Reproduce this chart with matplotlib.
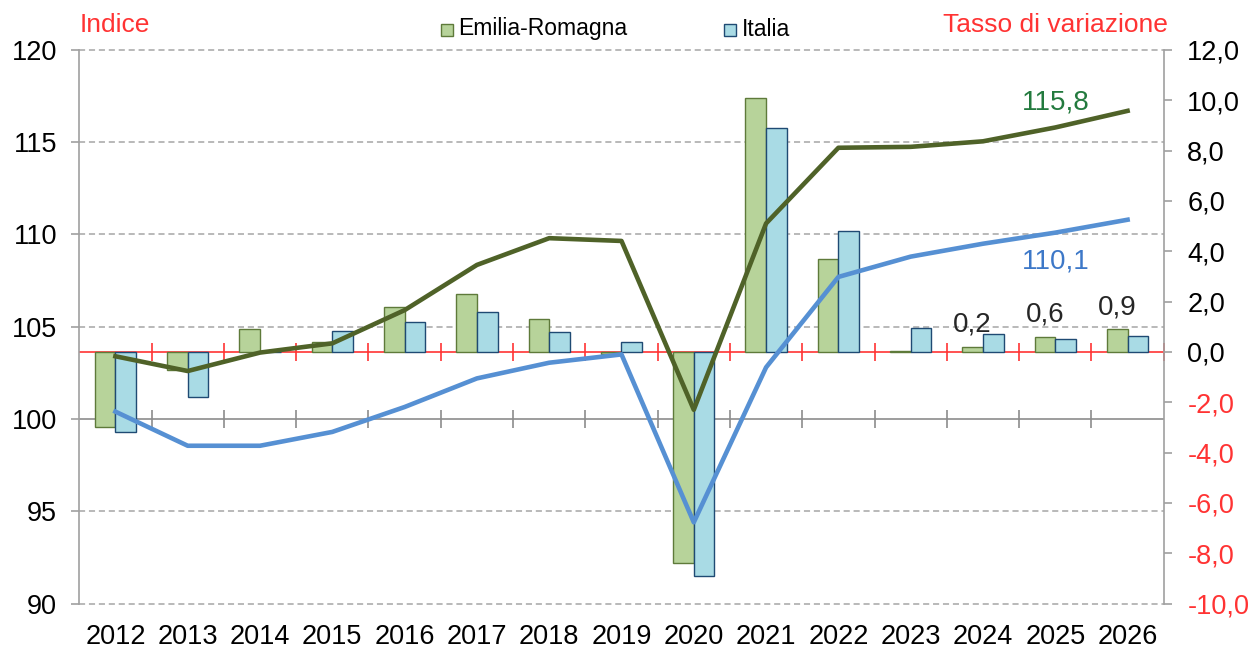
import numpy as np
import matplotlib
matplotlib.use("Agg")
import matplotlib.pyplot as plt
from matplotlib.patches import Rectangle
from matplotlib.transforms import blended_transform_factory

plt.rcParams['font.family'] = ['Liberation Sans', 'DejaVu Sans']

# Dati
anni = [2012, 2013, 2014, 2015, 2016, 2017, 2018, 2019, 2020,
        2021, 2022, 2023, 2024, 2025, 2026]
# Tasso di variazione (asse destro, barre)
var_er = [-3.0, -0.7, 0.9, 0.4, 1.8, 2.3, 1.3, -0.1, -8.4,
          10.1, 3.7, 0.05, 0.2, 0.6, 0.9]
var_it = [-3.2, -1.8, 0.0, 0.85, 1.2, 1.6, 0.8, 0.4, -8.9,
          8.9, 4.8, 0.95, 0.7, 0.5, 0.65]
# Indice (asse sinistro, linee)
idx_er = [103.4, 102.6, 103.6, 104.1, 105.9, 108.35, 109.8, 109.65, 100.5,
          110.6, 114.7, 114.75, 115.05, 115.8, 116.7]
idx_it = [100.4, 98.55, 98.55, 99.3, 100.65, 102.2, 103.05, 103.5, 94.4,
          102.8, 107.7, 108.8, 109.5, 110.1, 110.8]

rosso = '#ff3333'
grigio = '#a0a0a0'

def virgola(v):
    return f"{v:.1f}".replace('.', ',')

fig = plt.figure(figsize=(12.52, 6.55), dpi=100)
ax_r = fig.add_axes([0.0633, 0.0786, 0.8662, 0.8451])
ax_l = ax_r.twinx()

x = np.arange(len(anni))
w = 0.285

# Griglia tratteggiata (valori asse sinistro) sotto le barre
trans_g = blended_transform_factory(ax_r.transAxes, ax_l.transData)
for v in [90, 95, 105, 110, 115, 120]:
    ax_r.plot([0, 1], [v, v], transform=trans_g, color='#a6a6a6',
              ls=(0, (4, 2.5)), lw=1.1, zorder=0.5, clip_on=False)
ax_r.plot([0, 1], [100, 100], transform=trans_g, color='#8c8c8c',
          lw=1.2, zorder=0.6)

# Tacche sulle linee a 100 e a 0
confini = np.arange(len(anni) - 1) + 0.5
trans_t = blended_transform_factory(ax_r.transData, ax_l.transData)
ax_r.plot(confini, [100] * len(confini), transform=trans_t, ls='none',
          marker='|', ms=13, mew=1.2, color='#8c8c8c', zorder=0.6)
ax_r.axhline(0, color=rosso, lw=1.2, zorder=1)
ax_r.plot(np.append(confini, len(anni) - 0.5), [0] * (len(confini) + 1),
          ls='none', marker='|', ms=13, mew=1.2, color=rosso, zorder=1,
          clip_on=False)

# Barre
ax_r.bar(x - w / 2, var_er, w, color='#b7d39a', edgecolor='#5e7a3a',
         linewidth=1, zorder=2)
ax_r.bar(x + w / 2, var_it, w, color='#a9dbe5', edgecolor='#1f4a73',
         linewidth=1, zorder=2)

for i in [12, 13, 14]:
    ax_r.annotate(virgola(var_er[i]), (x[i] - w / 2, var_er[i]),
                  xytext=(0, 16), textcoords='offset points',
                  ha='center', va='center', fontsize=20, color='#262626')

ax_r.set_xlim(-0.5, len(anni) - 0.5)
ax_r.set_ylim(-10, 12)
tick_r = np.arange(-10, 13, 2)
ax_r.set_yticks(tick_r)
ax_r.set_yticklabels([virgola(v) for v in tick_r])
ax_r.yaxis.tick_right()
ax_r.tick_params(axis='y', direction='out', length=6, width=1.2,
                 color=grigio, pad=11, labelsize=19.5)
for t, v in zip(ax_r.yaxis.get_major_ticks(), tick_r):
    t.label2.set_color(rosso if v < 0 else 'black')
ax_r.set_xticks(x)
ax_r.set_xticklabels([str(a) for a in anni])
ax_r.tick_params(axis='x', length=0, pad=15, labelsize=19.5)
for s in ['top', 'left', 'bottom']:
    ax_r.spines[s].set_visible(False)
ax_r.spines['right'].set_color(grigio)
ax_r.spines['right'].set_linewidth(1.2)

# Linee indice
ax_l.plot(x, idx_er, color='#4f6228', lw=3.3, zorder=3)
ax_l.plot(x, idx_it, color='#5690d3', lw=3.3, zorder=3)
ax_l.annotate(virgola(idx_er[13]), (x[13], idx_er[13]), xytext=(0, 18),
              textcoords='offset points', ha='center', va='center',
              fontsize=20, color='#237a3e')
ax_l.annotate(virgola(idx_it[13]), (x[13], idx_it[13]), xytext=(0, -21),
              textcoords='offset points', ha='center', va='center',
              fontsize=20, color='#3d78c8')

ax_l.set_ylim(90, 120)
ax_l.set_yticks(np.arange(90, 121, 5))
ax_l.yaxis.tick_left()
ax_l.tick_params(axis='y', direction='out', length=6, width=1.2,
                 color=grigio, pad=10, labelsize=19.5)
for s in ['top', 'right', 'bottom']:
    ax_l.spines[s].set_visible(False)
ax_l.spines['left'].set_color(grigio)
ax_l.spines['left'].set_linewidth(1.2)

# Titoli degli assi
fig.text(80 / 1252, 1 - 25 / 655, 'Indice', color=rosso, fontsize=19,
         ha='left', va='center')
fig.text(1168 / 1252, 1 - 25 / 655, 'Tasso di variazione', color=rosso,
         fontsize=19, ha='right', va='center')

# Legenda
fig.add_artist(Rectangle((441 / 1252, 1 - 36 / 655), 12 / 1252, 12 / 655,
                         transform=fig.transFigure, facecolor='#b7d39a',
                         edgecolor='#5e7a3a', lw=1))
fig.text(458 / 1252, 1 - 29 / 655, 'Emilia-Romagna', fontsize=16.5,
         ha='left', va='center')
fig.add_artist(Rectangle((724 / 1252, 1 - 36 / 655), 12 / 1252, 12 / 655,
                         transform=fig.transFigure, facecolor='#a9dbe5',
                         edgecolor='#1f4a73', lw=1))
fig.text(742 / 1252, 1 - 29 / 655, 'Italia', fontsize=16.5,
         ha='left', va='center')

fig.savefig('out.png', dpi=100)
